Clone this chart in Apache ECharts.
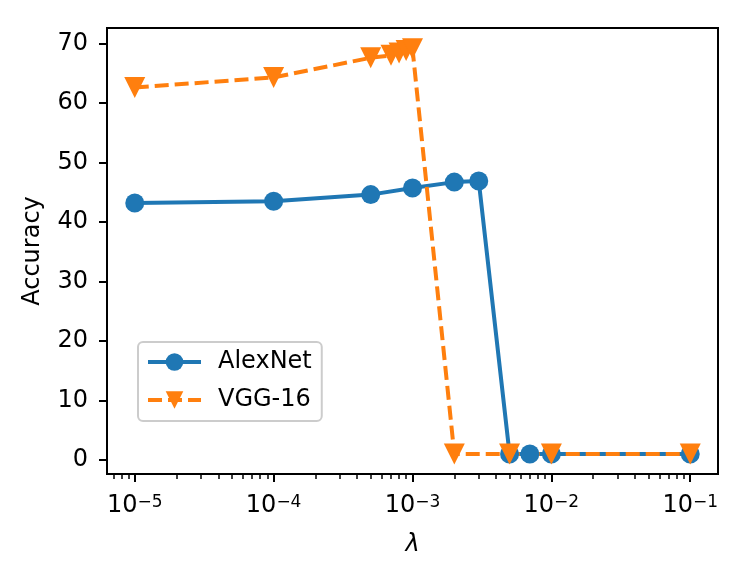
<!DOCTYPE html>
<html>
<head>
	<meta charset="utf-8">
	<title>Accuracy vs lambda</title>
	<script src="https://cdn.jsdelivr.net/npm/echarts@6/dist/echarts.min.js"></script>
	<style>
		html, body { margin: 0; padding: 0; background: #fff; }
		#box { width: 747px; height: 578px; }
	</style>
</head>
<body>
	<div id="box"></div>
	<script type="text/javascript">
		// lambda values and accuracy per network
		var alexLambda = [1e-5, 1e-4, 5e-4, 1e-3, 2e-3, 3e-3, 5e-3, 7e-3, 1e-2, 1e-1]
		var alexAcc = [43.2, 43.5, 44.6, 45.7, 46.7, 46.9, 1.0, 1.0, 1.0, 1.0]
		var vggLambda = [1e-5, 1e-4, 5e-4, 7e-4, 8e-4, 9e-4, 1e-3, 2e-3, 5e-3, 1e-2, 1e-1]
		var vggAcc = [62.6, 64.3, 67.6, 68.0, 68.4, 68.8, 69.1, 1.0, 1.0, 1.0, 1.0]

		// tick positions (x in log10 of lambda)
		var xMajor = [-5, -4, -3, -2, -1]
		var xMinorMult = [2, 3, 4, 5, 6, 7, 8, 9]
		var yTicks = [0, 10, 20, 30, 40, 50, 60, 70]

		var xMin = -5.2, xMax = -0.8
		var font = 'DejaVu Sans'

		// minor ticks at k*10^n inside the range
		var xMinor = []
		for (var n = -6; n <= -1; n++) {
			xMinorMult.forEach(function (k) {
				var v = Math.log10(k) + n
				if (v > xMin && v < xMax) xMinor.push(v)
			})
		}

		function pairs(xs, ys) {
			return xs.map(function (x, i) { return [Math.log10(x), ys[i]] })
		}

		var myEcharts = echarts.init(document.getElementById('box'))

		var options = {
			animation: false,
			textStyle: { fontFamily: font },
			grid: {
				left: 107, right: 29, top: 28, bottom: 104,
				show: true, borderColor: '#000', borderWidth: 2
			},
			legend: {
				orient: 'vertical',
				left: 138, top: 342,
				padding: [8, 10, 9, 8],
				itemWidth: 53, itemHeight: 22, itemGap: 14,
				backgroundColor: 'rgba(255,255,255,0.8)',
				borderColor: '#cccccc', borderWidth: 2, borderRadius: 5,
				lineStyle: { width: 4 },
				textStyle: { fontSize: 24, color: '#000', fontFamily: font, padding: [0, 0, 0, 12] },
				data: ['AlexNet', 'VGG-16']
			},
			xAxis: [
				{
					type: 'value', min: xMin, max: xMax,
					name: 'λ', nameLocation: 'middle', nameGap: 59,
					nameTextStyle: { fontSize: 24, fontStyle: 'italic', color: '#000', fontFamily: font },
					axisLine: { onZero: false, lineStyle: { color: '#000', width: 2 } },
					axisTick: { customValues: xMajor, length: 8, lineStyle: { color: '#000', width: 2 } },
					axisLabel: {
						customValues: xMajor, margin: 20, color: '#000',
						formatter: function (v) { return '{b|10}{s|−' + Math.abs(Math.round(v)) + '}' },
						rich: {
							b: { fontSize: 24, fontFamily: font, color: '#000' },
							s: { fontSize: 17, fontFamily: font, color: '#000', verticalAlign: 'top' }
						}
					},
					splitLine: { show: false }
				},
				{
					type: 'value', min: xMin, max: xMax, position: 'bottom',
					axisLine: { show: false, onZero: false },
					axisTick: { customValues: xMinor, length: 5, lineStyle: { color: '#000', width: 1.5 } },
					axisLabel: { show: false },
					splitLine: { show: false }
				}
			],
			yAxis: {
				type: 'value', min: -2.35, max: 72.6,
				name: 'Accuracy', nameLocation: 'middle', nameGap: 62,
				nameTextStyle: { fontSize: 24, color: '#000', fontFamily: font },
				axisLine: { show: true, onZero: false, lineStyle: { color: '#000', width: 2 } },
				axisTick: { show: true, customValues: yTicks, length: 8, lineStyle: { color: '#000', width: 2 } },
				axisLabel: { customValues: yTicks, fontSize: 24, color: '#000', margin: 19, fontFamily: font },
				splitLine: { show: false }
			},
			series: [
				{
					name: 'AlexNet', type: 'line',
					data: pairs(alexLambda, alexAcc),
					symbol: 'circle', symbolSize: 19,
					itemStyle: { color: '#1f77b4', borderWidth: 0 },
					lineStyle: { color: '#1f77b4', width: 4 }
				},
				{
					name: 'VGG-16', type: 'line',
					data: pairs(vggLambda, vggAcc),
					symbol: 'triangle', symbolSize: 21, symbolRotate: 180,
					itemStyle: { color: '#ff7f0e', borderWidth: 0 },
					lineStyle: { color: '#ff7f0e', width: 4, type: [14, 6] }
				}
			]
		}

		myEcharts.setOption(options)
	</script>
</body>
</html>
